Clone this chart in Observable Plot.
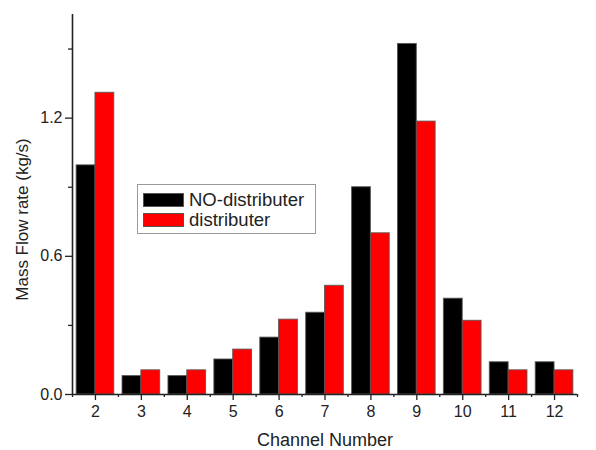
<!DOCTYPE html>
<html><head><meta charset="utf-8">
<script src="https://cdn.jsdelivr.net/npm/d3@7"></script>
<script src="https://cdn.jsdelivr.net/npm/@observablehq/plot@0.6"></script>
<style>
body{margin:0;background:#fff;font-family:"Liberation Sans",Arial,sans-serif;}
#wrap{position:relative;width:596px;height:450px;}
#legend{position:absolute;left:137px;top:184px;width:177px;height:48px;border:1px solid #9a9a9a;background:#fff;box-sizing:content-box;}
.item{position:absolute;left:5px;height:15px;display:flex;align-items:center;font-size:18.5px;color:#222;white-space:nowrap;}
.sw{width:41px;height:14px;border:1px solid #555;box-sizing:border-box;margin-right:5px;flex:none;}
</style></head><body><div id="wrap"></div>
<script>
const channels = [2, 3, 4, 5, 6, 7, 8, 9, 10, 11, 12];
const noDistributer = [0.995, 0.08, 0.08, 0.152, 0.247, 0.355, 0.90, 1.522, 0.416, 0.14, 0.14];
const distributer = [1.31, 0.105, 0.105, 0.195, 0.325, 0.472, 0.70, 1.185, 0.32, 0.105, 0.105];
const seriesNames = ["NO-distributer", "distributer"];
const seriesColors = ["#000000", "#ff0000"];
const yMajorTicks = [0, 0.6, 1.2];
const yMinorTicks = [0.3, 0.9, 1.5];
const xLabel = "Channel Number";
const yLabel = "Mass Flow rate (kg/s)";

const rows = channels.flatMap((c, i) => [
  {channel: c, series: seriesNames[0], value: noDistributer[i], side: -1},
  {channel: c, series: seriesNames[1], value: distributer[i], side: 0}
]);
const half = 0.41;
const xMinor = [channels[0] - 0.5, ...channels.map(c => c + 0.5)];

const chart = Plot.plot({
  width: 596, height: 450,
  marginLeft: 72, marginRight: 19, marginTop: 14, marginBottom: 56,
  style: {fontFamily: '"Liberation Sans", Arial, sans-serif', fontSize: "16px", color: "#222", background: "#fff"},
  x: {type: "linear", domain: [channels[0] - 0.5, channels[channels.length - 1] + 0.5]},
  y: {domain: [0, 1.65]},
  color: {domain: seriesNames, range: seriesColors},
  marks: [
    Plot.rectY(rows, {
      x1: d => d.channel + d.side * half,
      x2: d => d.channel + (d.side + 1) * half,
      y: "value", fill: "series", stroke: "#555", strokeWidth: 1, strokeOpacity: 0.85
    }),
    Plot.ruleY([0], {stroke: "#222", strokeWidth: 1.6}),
    Plot.ruleX([channels[0] - 0.5], {stroke: "#222", strokeWidth: 1.6}),
    Plot.axisX({ticks: channels, tickSize: 6, tickPadding: 5, tickFormat: "d", label: null, stroke: "#222", strokeWidth: 1.3, fontSize: 16}),
    Plot.axisX({ticks: xMinor, tickSize: 3, text: null, label: null, stroke: "#222", strokeWidth: 1.3}),
    Plot.axisY({ticks: yMajorTicks, tickSize: 7, tickPadding: 3, tickFormat: ".1f", label: null, stroke: "#222", strokeWidth: 1.3, fontSize: 16}),
    Plot.axisY({ticks: yMinorTicks, tickSize: 4, text: null, label: null, stroke: "#222", strokeWidth: 1.3}),
    Plot.text([xLabel], {frameAnchor: "bottom", textAnchor: "middle", lineAnchor: "middle", dy: 46, fontSize: 18, fill: "#222"}),
    Plot.text([yLabel], {frameAnchor: "left", textAnchor: "middle", lineAnchor: "middle", dx: -50, dy: 15, rotate: -90, fontSize: 17, fill: "#222"})
  ]
});
const wrap = document.getElementById("wrap");
wrap.appendChild(chart);

const legend = d3.select(wrap).append("div").attr("id", "legend");
seriesNames.forEach((name, i) => {
  const it = legend.append("div").attr("class", "item").style("top", (i === 0 ? 7 : 27) + "px");
  it.append("div").attr("class", "sw").style("background", seriesColors[i]);
  it.append("span").text(name);
});
</script></body></html>
